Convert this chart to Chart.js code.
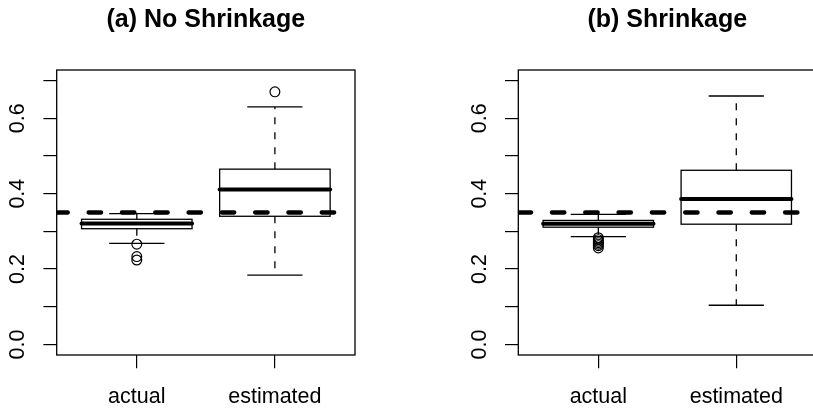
<!DOCTYPE html>
<html>
<head>
<meta charset="utf-8">
<script src="https://cdn.jsdelivr.net/npm/chart.js@4.4.1/dist/chart.umd.min.js"></script>
<style>
html, body { margin:0; padding:0; background:#fff; width:813px; height:410px; overflow:hidden; position:relative; }
.wrap { position:absolute; top:0; height:410px; overflow:visible; }
#wa { left:0; width:406px; }
#wb { left:406px; width:420px; }
canvas { display:block; }
</style>
</head>
<body>
<div class="wrap" id="wa"><canvas id="ca" width="406" height="410"></canvas></div>
<div class="wrap" id="wb"><canvas id="cb" width="420" height="410"></canvas></div>
<script>
// ---- data ----
const groups = ['actual', 'estimated'];
const panelTitles = ['(a) No Shrinkage', '(b) Shrinkage'];
const yTickValues = [0.0, 0.1, 0.2, 0.3, 0.4, 0.5, 0.6, 0.7];
const yTickLabels = ['0.0', '', '0.2', '', '0.4', '', '0.6', ''];
const refLine = 0.35;

// panel (a) No Shrinkage
const aLowerWhisker = [0.268, 0.184];
const aQ1           = [0.307, 0.340];
const aMedian       = [0.321, 0.411];
const aQ3           = [0.332, 0.465];
const aUpperWhisker = [0.347, 0.630];
const aOutliers     = [[0.266, 0.233, 0.224], [0.670]];

// panel (b) Shrinkage
const bLowerWhisker = [0.286, 0.104];
const bQ1           = [0.311, 0.319];
const bMedian       = [0.320, 0.386];
const bQ3           = [0.329, 0.462];
const bUpperWhisker = [0.345, 0.659];
const bOutliers     = [[0.283, 0.278, 0.274, 0.270, 0.266, 0.262, 0.256], []];

// ---- rendering ----
const FONT = "'Liberation Sans', Arial, Helvetica, sans-serif";
const X_MIN = 0.42, X_MAX = 2.58, Y_MIN = -0.028, Y_MAX = 0.728;

const boxPlugin = {
  id: 'rbox',
  beforeDatasetsDraw(chart) {
    const st = chart.options.plugins.rbox;
    const xs = chart.scales.x, ys = chart.scales.y, ctx = chart.ctx;
    const ca = chart.chartArea;
    ctx.save();
    ctx.strokeStyle = '#000';
    st.lower.forEach((_, i) => {
      const c = i + 1;
      const xc = xs.getPixelForValue(c);
      const xl = xs.getPixelForValue(c - 0.4), xr = xs.getPixelForValue(c + 0.4);
      const sl = xs.getPixelForValue(c - 0.2), sr = xs.getPixelForValue(c + 0.2);
      const pLo = ys.getPixelForValue(st.lower[i]);
      const pQ1 = ys.getPixelForValue(st.q1[i]);
      const pMed = ys.getPixelForValue(st.median[i]);
      const pQ3 = ys.getPixelForValue(st.q3[i]);
      const pUp = ys.getPixelForValue(st.upper[i]);
      // whiskers (dashed)
      ctx.lineWidth = 1.3;
      ctx.lineCap = 'butt';
      ctx.setLineDash([7, 8]);
      ctx.beginPath();
      ctx.moveTo(xc, pQ3); ctx.lineTo(xc, pUp);
      ctx.moveTo(xc, pQ1); ctx.lineTo(xc, pLo);
      ctx.stroke();
      ctx.setLineDash([]);
      // staples
      ctx.beginPath();
      ctx.moveTo(sl, pUp); ctx.lineTo(sr, pUp);
      ctx.moveTo(sl, pLo); ctx.lineTo(sr, pLo);
      ctx.stroke();
      // box
      ctx.strokeRect(xl, pQ3, xr - xl, pQ1 - pQ3);
      // median
      ctx.lineWidth = 4;
      ctx.lineCap = 'round';
      ctx.beginPath();
      ctx.moveTo(xl, pMed); ctx.lineTo(xr, pMed);
      ctx.stroke();
    });
    // plot frame
    ctx.lineWidth = 1.3;
    ctx.lineCap = 'butt';
    ctx.strokeRect(ca.left, ca.top, ca.right - ca.left, ca.bottom - ca.top);
    ctx.restore();
  }
};

function makeChart(id, k, stats, padL, padR, dashOffset) {
  const outlierPts = [];
  stats.outliers.forEach((arr, i) => arr.forEach(v => outlierPts.push({ x: i + 1, y: v })));
  return new Chart(document.getElementById(id), {
    data: {
      datasets: [
        {
          type: 'line',
          data: [{ x: X_MIN, y: refLine }, { x: X_MAX, y: refLine }],
          borderColor: '#000',
          borderWidth: 4.3,
          borderDash: [12.5, 20.8],
          borderDashOffset: dashOffset,
          borderCapStyle: 'round',
          pointRadius: 0,
          clip: 0,
          order: 0
        },
        {
          type: 'scatter',
          data: outlierPts,
          pointStyle: 'circle',
          pointRadius: 4.9,
          borderWidth: 1.2,
          borderColor: '#000',
          backgroundColor: 'rgba(0,0,0,0)',
          clip: false,
          order: 1
        }
      ]
    },
    options: {
      responsive: false,
      animation: false,
      events: [],
      devicePixelRatio: 1,
      layout: { padding: { left: padL, right: padR, top: 0, bottom: 0 } },
      plugins: {
        legend: { display: false },
        tooltip: { enabled: false },
        title: {
          display: true,
          text: panelTitles[k],
          color: '#000',
          fullSize: false,
          font: { family: FONT, size: 25, weight: 'bold', lineHeight: 1.2 },
          padding: { top: 5.5, bottom: 34.5 }
        },
        rbox: stats
      },
      scales: {
        x: {
          type: 'linear',
          min: X_MIN, max: X_MAX,
          afterBuildTicks: s => { s.ticks = groups.map((g, i) => ({ value: i + 1 })); },
          afterFit: s => { s.height = 55; },
          border: { display: false },
          grid: { drawOnChartArea: false, drawTicks: true, tickLength: 13.3, color: '#000', lineWidth: 1.2 },
          ticks: {
            color: '#000',
            font: { family: FONT, size: 21.5 },
            padding: 16,
            maxRotation: 0, minRotation: 0,
            autoSkip: false,
            callback: (v) => groups[Math.round(v) - 1]
          }
        },
        y: {
          type: 'linear',
          min: Y_MIN, max: Y_MAX,
          afterBuildTicks: s => { s.ticks = yTickValues.map(v => ({ value: v })); },
          afterFit: s => { s.width = 56.7; },
          border: { display: false },
          grid: { drawOnChartArea: false, drawTicks: true, tickLength: 13.3, color: '#000', lineWidth: 1.2 },
          ticks: {
            color: '#000',
            font: { family: FONT, size: 21.5 },
            padding: 10,
            crossAlign: 'center',
            minRotation: 90, maxRotation: 90,
            autoSkip: false,
            callback: (v, idx) => yTickLabels[idx]
          }
        }
      }
    },
    plugins: [boxPlugin]
  });
}

makeChart('ca', 0, {
  lower: aLowerWhisker, q1: aQ1, median: aMedian, q3: aQ3, upper: aUpperWhisker, outliers: aOutliers
}, 0, 51, 1.4);

makeChart('cb', 1, {
  lower: bLowerWhisker, q1: bQ1, median: bMedian, q3: bQ3, upper: bUpperWhisker, outliers: bOutliers
}, 55.6, 9.7, 33);
</script>
</body>
</html>
